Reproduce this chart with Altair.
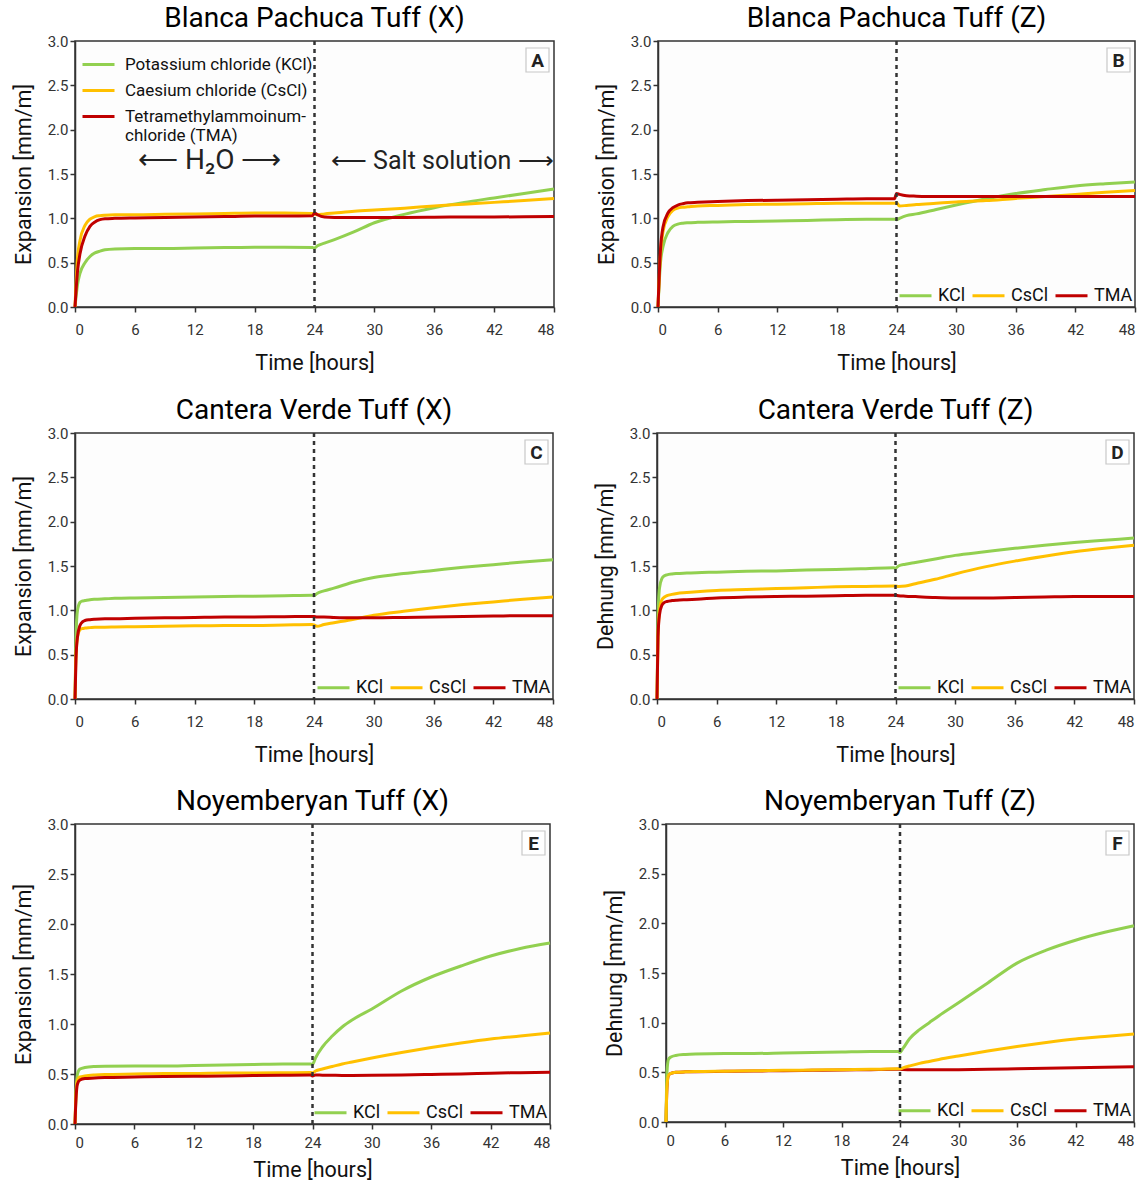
import altair as alt
import pandas as pd

SALTS = ["KCl", "CsCl", "TMA"]
COLORS = ["#92d050", "#ffc000", "#c00000"]
X_TICKS = [0, 6, 12, 18, 24, 30, 36, 42, 48]
Y_TICKS = [0.0, 0.5, 1.0, 1.5, 2.0, 2.5, 3.0]

# ---- Panel A: Blanca Pachuca Tuff (X)
A_T = [0, 0.25, 0.5, 1, 1.5, 2, 2.5, 3, 4, 6, 9, 12, 15, 18, 21, 23.8, 24, 24.3, 25, 26, 28, 30, 33, 36, 39, 42, 45, 48]
A_KCL = [0, 0.25, 0.38, 0.5, 0.57, 0.61, 0.63, 0.645, 0.655, 0.66, 0.66, 0.665, 0.67, 0.675, 0.675, 0.67, 0.665, 0.69, 0.72, 0.76, 0.85, 0.95, 1.045, 1.12, 1.18, 1.23, 1.28, 1.33]
A_CSCL = [0, 0.55, 0.75, 0.92, 0.99, 1.02, 1.03, 1.035, 1.04, 1.04, 1.045, 1.05, 1.055, 1.06, 1.06, 1.055, 1.05, 1.04, 1.05, 1.06, 1.08, 1.095, 1.115, 1.14, 1.16, 1.18, 1.2, 1.225]
A_TMA = [0, 0.4, 0.6, 0.8, 0.91, 0.96, 0.985, 0.995, 1.0, 1.005, 1.01, 1.015, 1.02, 1.025, 1.025, 1.03, 1.06, 1.04, 1.015, 1.01, 1.01, 1.01, 1.01, 1.012, 1.015, 1.015, 1.018, 1.02]

# ---- Panel B: Blanca Pachuca Tuff (Z)
B_T = A_T
B_KCL = [0, 0.5, 0.68, 0.84, 0.91, 0.935, 0.945, 0.95, 0.955, 0.96, 0.965, 0.97, 0.975, 0.985, 0.99, 0.99, 0.985, 1.0, 1.03, 1.05, 1.1, 1.15, 1.22, 1.28, 1.325, 1.365, 1.39, 1.41]
B_CSCL = [0, 0.6, 0.85, 1.02, 1.09, 1.115, 1.125, 1.13, 1.14, 1.145, 1.155, 1.16, 1.165, 1.17, 1.17, 1.17, 1.175, 1.14, 1.145, 1.155, 1.17, 1.185, 1.2, 1.225, 1.245, 1.27, 1.295, 1.315]
B_TMA = [0, 0.65, 0.9, 1.06, 1.12, 1.15, 1.165, 1.175, 1.18, 1.19, 1.2, 1.205, 1.21, 1.215, 1.22, 1.22, 1.28, 1.27, 1.255, 1.25, 1.245, 1.245, 1.245, 1.245, 1.245, 1.245, 1.245, 1.245]

# ---- Panel C: Cantera Verde Tuff (X)
C_T = [0, 0.1, 0.25, 0.5, 0.75, 1, 1.5, 2, 3, 4, 6, 9, 12, 15, 18, 21, 23.8, 24, 24.3, 25, 26, 28, 30, 33, 36, 39, 42, 45, 48]
C_KCL = [0, 0.7, 1.0, 1.09, 1.105, 1.11, 1.12, 1.125, 1.13, 1.135, 1.14, 1.145, 1.15, 1.155, 1.16, 1.165, 1.17, 1.165, 1.19, 1.22, 1.25, 1.32, 1.37, 1.415, 1.45, 1.485, 1.515, 1.545, 1.57]
C_CSCL = [0, 0.5, 0.7, 0.78, 0.795, 0.8, 0.805, 0.81, 0.81, 0.812, 0.815, 0.82, 0.825, 0.83, 0.83, 0.835, 0.84, 0.835, 0.82, 0.84, 0.86, 0.9, 0.945, 0.99, 1.03, 1.065, 1.095, 1.125, 1.15]
C_TMA = [0, 0.45, 0.7, 0.83, 0.87, 0.885, 0.895, 0.9, 0.905, 0.905, 0.91, 0.915, 0.92, 0.925, 0.925, 0.928, 0.93, 0.93, 0.925, 0.925, 0.92, 0.915, 0.915, 0.92, 0.925, 0.93, 0.935, 0.94, 0.94]

# ---- Panel D: Cantera Verde Tuff (Z)
D_T = C_T
D_KCL = [0, 0.9, 1.25, 1.36, 1.39, 1.4, 1.41, 1.415, 1.42, 1.425, 1.43, 1.44, 1.445, 1.455, 1.46, 1.47, 1.48, 1.475, 1.5, 1.52, 1.54, 1.58, 1.62, 1.66, 1.7, 1.735, 1.765, 1.79, 1.815]
D_CSCL = [0, 0.7, 1.0, 1.12, 1.15, 1.165, 1.18, 1.19, 1.2, 1.21, 1.225, 1.235, 1.245, 1.255, 1.265, 1.27, 1.275, 1.275, 1.27, 1.275, 1.3, 1.35, 1.41, 1.49, 1.555, 1.61, 1.66, 1.7, 1.735]
D_TMA = [0, 0.7, 0.95, 1.06, 1.09, 1.1, 1.11, 1.115, 1.12, 1.125, 1.14, 1.15, 1.155, 1.16, 1.165, 1.17, 1.17, 1.17, 1.165, 1.16, 1.155, 1.145, 1.14, 1.14, 1.145, 1.15, 1.155, 1.155, 1.155]

# ---- Panel E: Noyemberyan Tuff (X)
E_T = [0, 0.1, 0.25, 0.5, 1, 2, 3, 6, 9, 12, 15, 18, 21, 23.8, 24, 24.3, 25, 26, 27, 28, 30, 33, 36, 39, 42, 45, 48]
E_KCL = [0, 0.3, 0.5, 0.55, 0.565, 0.575, 0.578, 0.58, 0.58, 0.585, 0.59, 0.595, 0.6, 0.6, 0.595, 0.66, 0.77, 0.88, 0.97, 1.04, 1.15, 1.33, 1.47, 1.58, 1.68, 1.755, 1.81]
E_CSCL = [0, 0.3, 0.44, 0.47, 0.48, 0.49, 0.495, 0.5, 0.505, 0.505, 0.51, 0.51, 0.512, 0.515, 0.51, 0.53, 0.55, 0.575, 0.6, 0.62, 0.66, 0.715, 0.765, 0.81, 0.85, 0.88, 0.91]
E_TMA = [0, 0.25, 0.4, 0.44, 0.455, 0.46, 0.465, 0.47, 0.475, 0.478, 0.48, 0.485, 0.488, 0.49, 0.48, 0.49, 0.488, 0.487, 0.486, 0.486, 0.487, 0.49, 0.495, 0.5, 0.508, 0.513, 0.518]

# ---- Panel F: Noyemberyan Tuff (Z)
F_T = E_T
F_KCL = [0, 0.5, 0.63, 0.655, 0.67, 0.68, 0.685, 0.69, 0.69, 0.695, 0.7, 0.705, 0.71, 0.71, 0.7, 0.74, 0.84, 0.93, 1.0, 1.07, 1.2, 1.4, 1.6, 1.73, 1.83, 1.91, 1.975]
F_CSCL = [0, 0.35, 0.47, 0.49, 0.5, 0.505, 0.508, 0.512, 0.515, 0.52, 0.523, 0.527, 0.53, 0.535, 0.535, 0.545, 0.565, 0.59, 0.61, 0.63, 0.665, 0.715, 0.76, 0.8, 0.835, 0.86, 0.885]
F_TMA = [0, 0.35, 0.47, 0.49, 0.5, 0.505, 0.507, 0.51, 0.513, 0.517, 0.52, 0.523, 0.527, 0.53, 0.53, 0.528, 0.527, 0.526, 0.526, 0.526, 0.527, 0.53, 0.535, 0.54, 0.545, 0.55, 0.555]

# ---- Annotations in panel A (phase labels)
ANNOT_H2O = ["\u27f5   H\u2082O   \u27f6"]
ANNOT_SALT = ["\u27f5 Salt solution \u27f6"]
ANNOT_T = [13.5, 36.8]
ANNOT_V = [1.65, 1.65]

FONT = "Roboto"


def make_df(t, k, c, m, order=("KCl", "CsCl", "TMA")):
    vals = {"KCl": k, "CsCl": c, "TMA": m}
    rows = []
    for s in order:
        for i, (ti, v) in enumerate(zip(t, vals[s])):
            rows.append({"time": ti, "value": v, "salt": s, "idx": i})
    return pd.DataFrame(rows)


def panel(df, title, letter, ytitle, w, h, big_legend=False, lpad=10, xpad=15):
    if big_legend:
        legend = alt.Legend(
            title=None, orient="top-left", direction="vertical",
            symbolType="stroke", symbolSize=1024, symbolStrokeWidth=3,
            labelFontSize=17, labelFont=FONT, labelColor="#111",
            labelLimit=400, rowPadding=0, offset=6, padding=0,
            labelOffset=9,
            labelExpr="datum.label == 'KCl' ? 'Potassium chloride (KCl)' : datum.label == 'CsCl' ? 'Caesium chloride (CsCl)' : ['Tetramethylammoinum-', 'chloride (TMA)']",
        )
    else:
        legend = alt.Legend(
            title=None, orient="bottom-right", direction="horizontal",
            symbolType="stroke", symbolSize=1024, symbolStrokeWidth=3,
            labelFontSize=18, labelFont=FONT, labelColor="#111",
            columnPadding=0, offset=2, padding=0, labelOffset=5,
        )
    x = alt.X("time:Q", scale=alt.Scale(domain=[0, 48], nice=False, zero=False),
              axis=alt.Axis(values=X_TICKS, title="Time [hours]", titlePadding=xpad, labelPadding=lpad))
    y = alt.Y("value:Q", scale=alt.Scale(domain=[0, 3], nice=False),
              axis=alt.Axis(values=Y_TICKS, format=".1f", title=ytitle, titlePadding=12))
    color = alt.Color("salt:N", scale=alt.Scale(domain=SALTS, range=COLORS), legend=legend)

    lines = alt.Chart(df).mark_line(strokeWidth=3, interpolate="monotone").encode(
        x=x, y=y, color=color, order="idx:Q"
    )
    rule = alt.Chart(pd.DataFrame({"t": [24]})).mark_rule(
        strokeDash=[4, 4], strokeWidth=2.5, color="#333"
    ).encode(x="t:Q")
    box = alt.Chart(pd.DataFrame({"l": [letter]})).mark_rect(
        fill="white", stroke="#c8c8c8", strokeWidth=1.2
    ).encode(x=alt.value(w - 28), x2=alt.value(w - 5), y=alt.value(7), y2=alt.value(31))
    lab = alt.Chart(pd.DataFrame({"l": [letter]})).mark_text(
        fontSize=19, fontWeight="bold", font=FONT, color="#222", align="center", baseline="middle"
    ).encode(x=alt.value(w - 16.5), y=alt.value(19.5), text="l:N")
    layers = [lines, rule, box, lab]
    if big_legend:
        ann1 = alt.Chart(pd.DataFrame({"t": ANNOT_T[:1], "v": ANNOT_V[:1], "txt": ANNOT_H2O})).mark_text(
            fontSize=28, font=FONT, color="#222", align="center", baseline="middle"
        ).encode(x="t:Q", y="v:Q", text="txt:N")
        ann2 = alt.Chart(pd.DataFrame({"t": ANNOT_T[1:], "v": ANNOT_V[1:], "txt": ANNOT_SALT})).mark_text(
            fontSize=25, font=FONT, color="#222", align="center", baseline="middle"
        ).encode(x="t:Q", y="v:Q", text="txt:N")
        layers += [ann1, ann2]
    return alt.layer(*layers).properties(
        width=w, height=h,
        title=alt.TitleParams(title, fontSize=28, font=FONT, fontWeight="normal", color="#000", offset=1),
    )


pA = panel(make_df(A_T, A_KCL, A_CSCL, A_TMA), "Blanca Pachuca Tuff (X)", "A", "Expansion [mm/m]", 479, 266, big_legend=True)
pB = panel(make_df(B_T, B_KCL, B_CSCL, B_TMA), "Blanca Pachuca Tuff (Z)", "B", "Expansion [mm/m]", 477, 266)
pC = panel(make_df(C_T, C_KCL, C_CSCL, C_TMA), "Cantera Verde Tuff (X)", "C", "Expansion [mm/m]", 478, 266)
pD = panel(make_df(D_T, D_KCL, D_CSCL, D_TMA), "Cantera Verde Tuff (Z)", "D", "Dehnung [mm/m]", 477, 266)
pE = panel(make_df(E_T, E_KCL, E_CSCL, E_TMA), "Noyemberyan Tuff (X)", "E", "Expansion [mm/m]", 475, 300, lpad=6, xpad=9)
pF = panel(make_df(F_T, F_KCL, F_CSCL, F_TMA, order=("TMA", "KCl", "CsCl")), "Noyemberyan Tuff (Z)", "F", "Dehnung [mm/m]", 468, 298, lpad=6, xpad=9)

row1 = alt.hconcat(pA, pB, spacing=34).resolve_scale(color="independent")
row2 = alt.hconcat(pC, pD, spacing=34).resolve_scale(color="independent")
row3 = alt.hconcat(pE, pF, spacing=46).resolve_scale(color="independent")

top = alt.vconcat(row1, row2, spacing=21).resolve_scale(color="independent")

chart = alt.vconcat(top, row3, spacing=20).resolve_scale(color="independent").properties(
    padding={"left": 12, "top": 4, "right": 5, "bottom": 5}
).configure(
    font=FONT
).configure_view(
    stroke="#333", strokeWidth=1.5, fill="#fdfdfd"
).configure_axis(
    labelFontSize=15, labelFont=FONT, labelColor="#333",
    titleFontSize=21.5, titleFont=FONT, titleFontWeight="normal", titleColor="#111",
    domainColor="#333", domainWidth=1.5, tickColor="#333", tickWidth=1.5, tickSize=5,
    grid=False,
).configure_title(anchor="middle")

chart.save("out.html", embed_options={"renderer": "svg", "actions": False})
